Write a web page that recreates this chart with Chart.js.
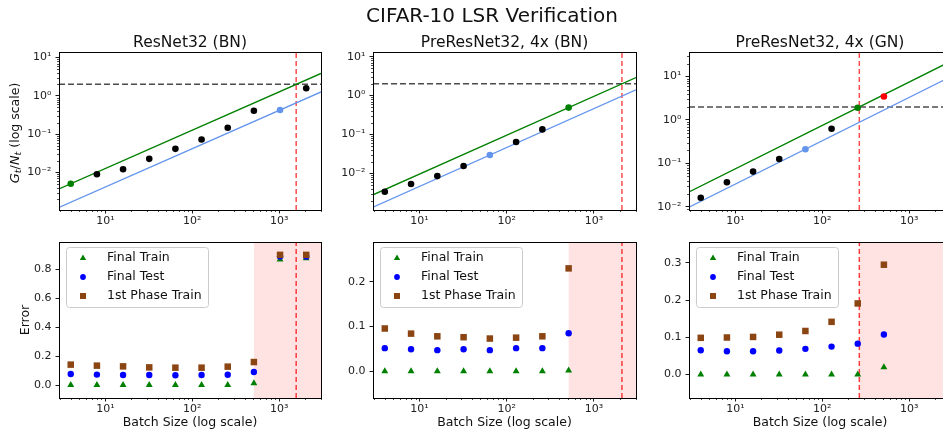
<!DOCTYPE html>
<html>
<head>
<meta charset="utf-8">
<script src="https://cdn.jsdelivr.net/npm/chart.js@4.4.0/dist/chart.umd.min.js"></script>
<style>
html, body { margin: 0; padding: 0; background: #fff; width: 943px; height: 437px; overflow: hidden; position: relative; }
canvas { position: absolute; left: 0; top: 0; }
</style>
</head>
<body>
<canvas id="g0" width="960" height="437"></canvas>
<canvas id="g1" width="960" height="437"></canvas>
<canvas id="g2" width="960" height="437"></canvas>
<canvas id="e0" width="960" height="437"></canvas>
<canvas id="e1" width="960" height="437"></canvas>
<canvas id="e2" width="960" height="437"></canvas>
<script>
// Data
const batchSizes = [4, 8, 16, 32, 64, 128, 256, 512, 1024, 2048];

// top row: G_t / N_t
const ratioResNetBN = [0.0051, 0.009, 0.0122, 0.0227, 0.0415, 0.073, 0.147, 0.41, 0.43, 1.58];
const ratioPreResBN = [0.00336, 0.0053, 0.0085, 0.0155, 0.0295, 0.064, 0.135, 0.49];
const ratioPreResGN = [0.0161, 0.0366, 0.0645, 0.126, 0.212, 0.63, 1.92, 3.47];

// fitted lines (value at left and right edge of the x range)
const fitX = [2.93, 3030];
const greenFitResNetBN = [0.00374, 3.86];
const blueFitResNetBN = [0.00123, 1.27];
const greenFitPreResBN = [0.0028, 2.9];
const blueFitPreResBN = [0.00135, 1.4];
const greenFitPreResGN = [0.022, 22.7];
const blueFitPreResGN = [0.0097, 10.0];

const thresholdY = 2;
const criticalBatch = [1570, 2090, 267];
const shadeFrom = [512, 512, 267];

// bottom row: error
const trainResNetBN = [0, 0, 0, 0, 0, 0, 0, 0.012, 0.869, 0.878];
const testResNetBN = [0.076, 0.072, 0.069, 0.069, 0.067, 0.069, 0.071, 0.09, 0.89, 0.89];
const phase1ResNetBN = [0.141, 0.134, 0.129, 0.122, 0.12, 0.12, 0.127, 0.159, 0.901, 0.901];

const trainPreResBN = [0, 0, 0, 0, 0, 0, 0, 0.0015];
const testPreResBN = [0.0515, 0.049, 0.047, 0.049, 0.047, 0.0515, 0.0515, 0.085];
const phase1PreResBN = [0.0955, 0.084, 0.078, 0.076, 0.073, 0.075, 0.078, 0.23];

const trainPreResGN = [0, 0, 0, 0, 0, 0, 0, 0.0197];
const testPreResGN = [0.0654, 0.0627, 0.0627, 0.0645, 0.069, 0.075, 0.083, 0.1075];
const phase1PreResGN = [0.0986, 0.0995, 0.101, 0.107, 0.117, 0.1416, 0.191, 0.295];

// ticks
const xMajorTicks = [10, 100, 1000];
const xMajorLabels = ['10¹', '10²', '10³'];
const yLogMajorTicks = [0.01, 0.1, 1, 10];
const yLogMajorLabels = ['10⁻²', '10⁻¹', '10⁰', '10¹'];
const errTicks = [[0, 0.2, 0.4, 0.6, 0.8], [0, 0.1, 0.2], [0, 0.1, 0.2, 0.3]];
const errTickLabels = [['0.0', '0.2', '0.4', '0.6', '0.8'], ['0.0', '0.1', '0.2'], ['0.0', '0.1', '0.2', '0.3']];

const panelTitles = ['ResNet32 (BN)', 'PreResNet32, 4x (BN)', 'PreResNet32, 4x (GN)'];
const legendLabels = ['Final Train', 'Final Test', '1st Phase Train'];

// axis ranges
const xRange = [2.93, 3030];
const ratioRanges = [[0.00105, 14], [0.00114, 13.2], [0.0084, 37]];
const errRanges = [[-0.09, 0.99], [-0.06, 0.289], [-0.063, 0.356]];

// layout
const FONT = '"DejaVu Sans", sans-serif';
const CANVAS_W = 960, CANVAS_H = 437, Y_AXIS_W = 44, X_AXIS_H = 20;
const rowTop = [52, 210], rowBottom = [242, 398];
const cols = [[59, 321], [373, 636], [689, 951]];

const GREEN = '#008000', BLUE = '#0000ff', BROWN = '#8b4513', CORNFLOWER = '#6495ed';

// minor tick positions of a log axis (2..9 times each decade), majors excluded
function logMinorTicks(lo, hi) {
    const out = [];
    for (let e = -4; e <= 4; e++) {
        for (let k = 2; k <= 9; k++) {
            const v = +(k * Math.pow(10, e)).toPrecision(6);
            if (v > lo && v < hi) out.push(v);
        }
    }
    return out;
}

function findLabel(v, majors, labels) {
    for (let i = 0; i < majors.length; i++) {
        if (Math.abs(v - majors[i]) <= Math.abs(majors[i]) * 1e-6 + 1e-12) return labels[i];
    }
    return '';
}

function axisCommon(isX) {
    return {
        ticks: { autoSkip: false, maxRotation: 0, padding: isX ? 1.5 : 4, color: '#222', font: { family: FONT, size: 11 } },
        grid: { drawOnChartArea: false, drawTicks: true, tickLength: 3.5, color: '#000', tickWidth: 0.9 },
        border: { display: false }
    };
}

function xScale() {
    const s = axisCommon(true);
    return Object.assign(s, {
        type: 'logarithmic', min: xRange[0], max: xRange[1],
        afterBuildTicks: sc => { sc.ticks = xMajorTicks.map(v => ({ value: v, major: true })); },
        afterFit: sc => { sc.height = X_AXIS_H; },
        ticks: Object.assign(s.ticks, { callback: v => findLabel(v, xMajorTicks, xMajorLabels) })
    });
}

function ratioScale(range) {
    const s = axisCommon(false);
    return Object.assign(s, {
        type: 'logarithmic', min: range[0], max: range[1],
        afterBuildTicks: sc => {
            sc.ticks = yLogMajorTicks.filter(v => v >= range[0] && v <= range[1]).map(v => ({ value: v, major: true }));
        },
        afterFit: sc => { sc.width = Y_AXIS_W; },
        ticks: Object.assign(s.ticks, { callback: v => findLabel(v, yLogMajorTicks, yLogMajorLabels) })
    });
}

function errScale(range, ticks, labels) {
    const s = axisCommon(false);
    return Object.assign(s, {
        type: 'linear', min: range[0], max: range[1],
        afterBuildTicks: sc => { sc.ticks = ticks.map(v => ({ value: v, major: true })); },
        afterFit: sc => { sc.width = Y_AXIS_W; },
        ticks: Object.assign(s.ticks, { callback: v => findLabel(v, ticks, labels) })
    });
}

function padFor(col, row) {
    return { left: col[0] - Y_AXIS_W, right: CANVAS_W - col[1], top: row[0], bottom: CANVAS_H - row[1] - X_AXIS_H };
}

function points(ys) {
    return ys.map((y, i) => ({ x: batchSizes[i], y: y }));
}

function drawMarker(ctx, style, color, x, y) {
    ctx.fillStyle = color;
    ctx.beginPath();
    if (style === 'triangle') {
        ctx.moveTo(x, y - 3.6);
        ctx.lineTo(x + 3.2, y + 2);
        ctx.lineTo(x - 3.2, y + 2);
        ctx.closePath();
    } else if (style === 'circle') {
        ctx.arc(x, y, 2.9, 0, Math.PI * 2);
    } else {
        ctx.rect(x - 3, y - 3, 6, 6);
    }
    ctx.fill();
}

// draws "G_t/N_t (log scale)" rotated, with italic math and subscripts
function drawMathYLabel(ctx, cx, cy) {
    const parts = [
        { t: 'G', f: 'italic 13px ' + FONT, dy: 0 },
        { t: 't', f: 'italic 9.5px ' + FONT, dy: 3 },
        { t: '/', f: '13px ' + FONT, dy: 0 },
        { t: 'N', f: 'italic 13px ' + FONT, dy: 0 },
        { t: 't', f: 'italic 9.5px ' + FONT, dy: 3 },
        { t: ' (log scale)', f: '12.5px ' + FONT, dy: 0 }
    ];
    ctx.save();
    ctx.translate(cx, cy);
    ctx.rotate(-Math.PI / 2);
    ctx.fillStyle = '#111';
    ctx.textBaseline = 'middle';
    ctx.textAlign = 'left';
    let total = 0;
    parts.forEach(p => { ctx.font = p.f; p.w = ctx.measureText(p.t).width; total += p.w; });
    let x = -total / 2;
    parts.forEach(p => { ctx.font = p.f; ctx.fillText(p.t, x, p.dy); x += p.w; });
    ctx.restore();
}

const panelDecor = {
    id: 'panelDecor',
    beforeDatasetsDraw(chart, args, opts) {
        if (opts.shadeFrom == null) return;
        const { ctx, chartArea: a } = chart;
        const px = chart.scales.x.getPixelForValue(opts.shadeFrom);
        ctx.save();
        ctx.fillStyle = 'rgba(255, 0, 0, 0.11)';
        ctx.fillRect(px, a.top, a.right - px, a.bottom - a.top);
        ctx.restore();
    },
    afterDraw(chart, args, opts) {
        const { ctx, chartArea: a } = chart;
        ctx.save();
        ctx.strokeStyle = '#000';
        ctx.lineWidth = 1;
        ctx.strokeRect(Math.round(a.left) + 0.5, Math.round(a.top) + 0.5, Math.round(a.right - a.left), Math.round(a.bottom - a.top));

        // minor ticks, shorter than the major ones
        ctx.lineWidth = 0.7;
        ctx.beginPath();
        (opts.xMinor || []).forEach(v => {
            const px = Math.round(chart.scales.x.getPixelForValue(v)) + 0.5;
            ctx.moveTo(px, a.bottom);
            ctx.lineTo(px, a.bottom + 2);
        });
        (opts.yMinor || []).forEach(v => {
            const py = Math.round(chart.scales.y.getPixelForValue(v)) + 0.5;
            ctx.moveTo(a.left, py);
            ctx.lineTo(a.left - 2, py);
        });
        ctx.stroke();

        ctx.fillStyle = '#111';
        if (opts.suptitle) {
            ctx.font = '20px ' + FONT;
            ctx.textAlign = 'center';
            ctx.textBaseline = 'alphabetic';
            ctx.fillText(opts.suptitle, 492, 21.5);
        }
        if (opts.title) {
            ctx.font = '15.5px ' + FONT;
            ctx.textAlign = 'center';
            ctx.textBaseline = 'alphabetic';
            ctx.fillText(opts.title, (a.left + a.right) / 2, a.top - 5.5);
        }
        if (opts.xLabel) {
            ctx.font = '12.5px ' + FONT;
            ctx.textAlign = 'center';
            ctx.textBaseline = 'middle';
            ctx.fillText(opts.xLabel, (a.left + a.right) / 2, a.bottom + 25);
        }
        if (opts.yLabel) {
            ctx.save();
            ctx.translate(a.left - 33, (a.top + a.bottom) / 2);
            ctx.rotate(-Math.PI / 2);
            ctx.font = '12.5px ' + FONT;
            ctx.textAlign = 'center';
            ctx.textBaseline = 'middle';
            ctx.fillText(opts.yLabel, 0, 0);
            ctx.restore();
        }
        if (opts.mathYLabel) {
            drawMathYLabel(ctx, a.left - 43, (a.top + a.bottom) / 2 + 2);
        }
        if (opts.legend) {
            const bx = a.left + 7, by = a.top + 5, bw = 142, bh = 60;
            ctx.beginPath();
            if (ctx.roundRect) ctx.roundRect(bx + 0.5, by + 0.5, bw, bh, 3);
            else ctx.rect(bx + 0.5, by + 0.5, bw, bh);
            ctx.fillStyle = 'rgba(255, 255, 255, 0.8)';
            ctx.fill();
            ctx.strokeStyle = '#cccccc';
            ctx.lineWidth = 1;
            ctx.stroke();
            const styles = ['triangle', 'circle', 'rect'];
            const colors = [GREEN, BLUE, BROWN];
            ctx.font = '12.5px ' + FONT;
            ctx.textAlign = 'left';
            ctx.textBaseline = 'middle';
            legendLabels.forEach((lab, i) => {
                const y = by + 11 + i * 19;
                drawMarker(ctx, styles[i], colors[i], bx + 17, y);
                ctx.fillStyle = '#111';
                ctx.fillText(lab, bx + 41, y);
            });
        }
        ctx.restore();
    }
};

function baseOptions(col, row, yScale, decor) {
    return {
        responsive: false,
        animation: false,
        devicePixelRatio: 1,
        events: [],
        layout: { padding: padFor(col, row) },
        scales: { x: xScale(), y: yScale },
        plugins: { legend: { display: false }, tooltip: { enabled: false }, title: { display: false }, panelDecor: decor }
    };
}

const xMinor = logMinorTicks(xRange[0], xRange[1]);

// Top row: G_t/N_t vs batch size
const ratioSeries = [ratioResNetBN, ratioPreResBN, ratioPreResGN];
const dotColors = [
    [GREEN, 'black', 'black', 'black', 'black', 'black', 'black', 'black', CORNFLOWER, 'black'],
    ['black', 'black', 'black', 'black', CORNFLOWER, 'black', 'black', GREEN],
    ['black', 'black', 'black', 'black', CORNFLOWER, 'black', GREEN, 'red']
];
const greenFits = [greenFitResNetBN, greenFitPreResBN, greenFitPreResGN];
const blueFits = [blueFitResNetBN, blueFitPreResBN, blueFitPreResGN];

for (let p = 0; p < 3; p++) {
    const yr = ratioRanges[p];
    new Chart(document.getElementById('g' + p), {
        type: 'scatter',
        plugins: [panelDecor],
        data: {
            datasets: [
                { data: points(ratioSeries[p]), backgroundColor: dotColors[p], borderColor: dotColors[p], pointRadius: 3.3, borderWidth: 0 },
                { data: fitX.map((x, i) => ({ x: x, y: greenFits[p][i] })), showLine: true, borderColor: GREEN, borderWidth: 1.3, pointRadius: 0 },
                { data: fitX.map((x, i) => ({ x: x, y: blueFits[p][i] })), showLine: true, borderColor: CORNFLOWER, borderWidth: 1.3, pointRadius: 0 },
                { data: [{ x: xRange[0], y: thresholdY }, { x: xRange[1], y: thresholdY }], showLine: true, borderColor: 'rgba(0,0,0,0.7)', borderWidth: 1.5, borderDash: [6, 3], pointRadius: 0 },
                { data: [{ x: criticalBatch[p], y: yr[0] }, { x: criticalBatch[p], y: yr[1] }], showLine: true, borderColor: 'rgba(255,0,0,0.7)', borderWidth: 1.5, borderDash: [5, 3], pointRadius: 0 }
            ]
        },
        options: baseOptions(cols[p], rowTop, ratioScale(yr), {
            title: panelTitles[p],
            suptitle: p === 0 ? 'CIFAR-10 LSR Verification' : null,
            mathYLabel: p === 0,
            xMinor: xMinor,
            yMinor: logMinorTicks(yr[0], yr[1])
        })
    });
}

// Bottom row: error vs batch size
const trainSeries = [trainResNetBN, trainPreResBN, trainPreResGN];
const testSeries = [testResNetBN, testPreResBN, testPreResGN];
const phase1Series = [phase1ResNetBN, phase1PreResBN, phase1PreResGN];

for (let p = 0; p < 3; p++) {
    const yr = errRanges[p];
    new Chart(document.getElementById('e' + p), {
        type: 'scatter',
        plugins: [panelDecor],
        data: {
            datasets: [
                { data: points(phase1Series[p]), pointStyle: 'rect', backgroundColor: BROWN, borderWidth: 0, pointRadius: 4.6 },
                { data: points(testSeries[p]), pointStyle: 'circle', backgroundColor: BLUE, borderWidth: 0, pointRadius: 3.2 },
                { data: points(trainSeries[p]), pointStyle: 'triangle', backgroundColor: GREEN, borderWidth: 0, pointRadius: 4 },
                { data: [{ x: criticalBatch[p], y: yr[0] }, { x: criticalBatch[p], y: yr[1] }], showLine: true, borderColor: 'rgba(255,0,0,0.75)', borderWidth: 1.5, borderDash: [5, 3], pointRadius: 0 }
            ]
        },
        options: baseOptions(cols[p], rowBottom, errScale(yr, errTicks[p], errTickLabels[p]), {
            shadeFrom: shadeFrom[p],
            legend: true,
            xLabel: 'Batch Size (log scale)',
            yLabel: p === 0 ? 'Error' : null,
            xMinor: xMinor
        })
    });
}
</script>
</body>
</html>
